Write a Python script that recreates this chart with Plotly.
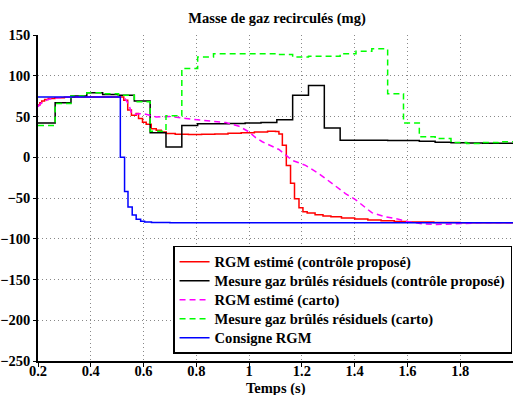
import plotly.graph_objects as go

# ---- data ----
t_meas = [0.20, 0.265, 0.325, 0.385, 0.445, 0.505, 0.565, 0.625, 0.685, 0.745, 0.805, 0.865,
          0.925, 0.985, 1.045, 1.105, 1.165, 1.225, 1.285, 1.345, 1.405, 1.465, 1.525, 1.585,
          1.645, 1.705, 1.765, 1.825, 1.885, 1.945, 2.00]
mes_propose = [42, 67, 75, 79, 77, 76, 69, 30, 12.5, 39, 41, 41, 41.5, 42, 42.5, 46, 76, 88, 36,
               21, 21, 21, 20.5, 20.5, 19.6, 18.4, 17.8, 17.5, 17.3, 17.2, 17.2]
mes_carto = [39, 66, 75, 79, 78, 76, 68, 32, 51, 109, 123, 127, 127, 127, 127, 126, 123, 124,
             124, 127, 130, 133, 78, 42, 25, 23, 18, 17, 18, 19, 19]

t_rgm_prop = [0.2, 0.207, 0.214, 0.225, 0.239, 0.264, 0.3, 0.35, 0.525, 0.540, 0.554, 0.572,
              0.581, 0.596, 0.610, 0.629, 0.648, 0.667, 0.686, 0.72, 0.77, 0.82, 0.87, 0.92,
              0.97, 1.02, 1.07, 1.1, 1.113, 1.126, 1.141, 1.157, 1.172, 1.189, 1.204, 1.22,
              1.25, 1.28, 1.31, 1.35, 1.4, 1.45, 1.5, 1.55, 1.6, 1.7, 1.8, 2.0]
rgm_prop = [64, 67, 69, 71, 72, 73, 73.5, 74, 70, 58, 51.5, 53.6, 47.5, 43, 40.5, 35, 33, 31,
            29, 28.3, 28, 28.2, 28.6, 29.3, 30.2, 31, 31.8, 31.5, 28.5, 14.7, -10, -32, -51,
            -62, -67, -68.5, -70.5, -72, -73, -74.5, -75.8, -77, -78, -78.8, -79.5, -80.2,
            -80.5, -80.5]

t_rgm_carto = [0.2, 0.214, 0.239, 0.264, 0.3, 0.4, 0.509, 0.528, 0.545, 0.554, 0.566, 0.585,
               0.604, 0.648, 0.698, 0.761, 0.811, 0.86, 0.912, 0.962, 1.0, 1.025, 1.05, 1.113,
               1.163, 1.214, 1.264, 1.314, 1.365, 1.403, 1.465, 1.516, 1.566, 1.6, 1.653,
               1.709, 1.766, 1.818, 1.87, 2.0]
rgm_carto = [62, 67, 71, 72.5, 73.5, 74, 74, 73, 64, 54, 52.8, 53.5, 53, 49.5, 50, 47.5, 46,
             44.5, 42.5, 38, 31, 24, 19, 9.5, -3.7, -10, -20, -32, -44.5, -52, -68, -73, -76,
             -79, -81.5, -82.6, -82, -81, -80.5, -80.5]

t_consigne = [0.2, 0.512, 0.528, 0.541, 0.557, 0.572, 0.589, 0.604, 0.63, 0.7, 2.0]
consigne = [74, 0, -42, -61, -71, -76, -78.5, -79.5, -80, -80.5, -80.5]

series_names = ["RGM estimé (contrôle proposé)",
                "Mesure gaz brûlés résiduels (contrôle proposé)",
                "RGM estimé (carto)",
                "Mesure gaz brûlés résiduels (carto)",
                "Consigne RGM"]

x_ticks = [0.2, 0.4, 0.6, 0.8, 1.0, 1.2, 1.4, 1.6, 1.8, 2.0]
x_ticklabels = ["0.2", "0.4", "0.6", "0.8", "1", "1.2", "1.4", "1.6", "1.8", "2"]
y_ticks = [-250, -200, -150, -100, -50, 0, 50, 100, 150]

FONT = "Liberation Serif"


def leg(name):
    # legend rows are kept compact while the text is drawn at the reference size
    return '<span style="font-size:14.6px">' + name + '</span>'


fig = go.Figure()
fig.add_trace(go.Scatter(x=t_rgm_prop, y=rgm_prop, mode="lines", line_shape="hv",
                         line=dict(color="#ff0000", width=1.5), name=leg(series_names[0])))
fig.add_trace(go.Scatter(x=t_meas, y=mes_propose, mode="lines", line_shape="hv",
                         line=dict(color="#000000", width=1.5), name=leg(series_names[1])))
fig.add_trace(go.Scatter(x=t_rgm_carto, y=rgm_carto, mode="lines",
                         line=dict(color="#ff00ff", width=1.5, dash="6px,4px"),
                         name=leg(series_names[2])))
fig.add_trace(go.Scatter(x=t_meas, y=mes_carto, mode="lines", line_shape="hv",
                         line=dict(color="#00ff00", width=1.5, dash="6px,4px"),
                         name=leg(series_names[3])))
fig.add_trace(go.Scatter(x=t_consigne, y=consigne, mode="lines", line_shape="hv",
                         line=dict(color="#0000ff", width=1.5), name=leg(series_names[4])))

fig.update_layout(
    width=513, height=395,
    margin=dict(l=38, r=0, t=35, b=34),
    paper_bgcolor="white", plot_bgcolor="white",
    font=dict(family=FONT, size=14.5, color="black", weight="bold"),
    title=dict(text="Masse de gaz recirculés (mg)", x=0.54, xanchor="center",
               y=0.955, yanchor="middle", font=dict(family=FONT, size=14.5, weight="bold")),
    showlegend=True,
    legend=dict(x=0.998, xanchor="right", y=0.022, yanchor="bottom",
                bgcolor="white", bordercolor="black", borderwidth=1.5,
                font=dict(family=FONT, size=12, weight="bold"), tracegroupgap=0),
    annotations=[dict(text="Temps (s)", xref="paper", yref="paper", x=0.5, y=-0.085,
                      xanchor="center", yanchor="middle", showarrow=False,
                      font=dict(family=FONT, size=14.5, weight="bold"))],
)
fig.update_xaxes(range=[0.2, 2.0], tickvals=x_ticks, ticktext=x_ticklabels,
                 automargin=False, ticklabelstandoff=-8,
                 showline=True, linecolor="black", linewidth=1.5,
                 ticks="outside", ticklen=4, tickcolor="black",
                 showgrid=True, gridcolor="#888", griddash="1px,3px", gridwidth=1,
                 zeroline=False)
fig.update_yaxes(range=[-250, 150], tickvals=y_ticks,
                 automargin=False,
                 showline=True, linecolor="black", linewidth=1.5,
                 ticks="outside", ticklen=3, tickcolor="black",
                 showgrid=True, gridcolor="#888", griddash="1px,3px", gridwidth=1,
                 zeroline=False)

fig.write_html("out.html", config={"displayModeBar": False},
               post_script="document.body.style.margin='0';document.body.style.overflow='hidden';")
